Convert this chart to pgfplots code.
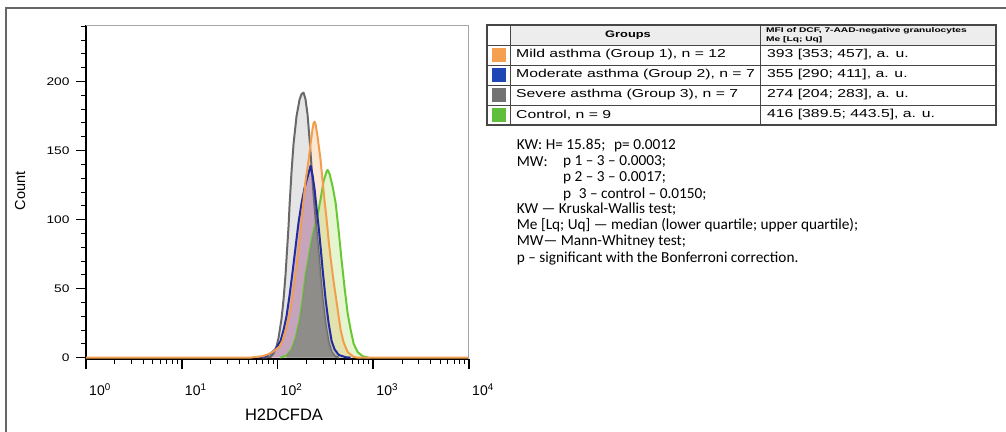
\documentclass[border=0pt]{standalone}
\usepackage{fontspec}
\setmainfont{Liberation Sans}
\newfontfamily\notefont{Carlito}
\usepackage{graphicx}
\usepackage{pgfplots}
\pgfplotsset{compat=1.18}

\definecolor{cmild}{RGB}{242,158,78}
\definecolor{cmod}{RGB}{32,44,160}
\definecolor{csev}{RGB}{105,105,105}
\definecolor{cctl}{RGB}{104,200,52}
\definecolor{smild}{RGB}{245,160,80}
\definecolor{smod}{RGB}{30,70,180}
\definecolor{ssev}{RGB}{115,115,115}
\definecolor{sctl}{RGB}{95,190,60}
\definecolor{tline}{RGB}{70,70,70}
\definecolor{overlap}{RGB}{135,135,135}

\newcommand\tabtext[1]{\scalebox{1.37}[1]{\fontsize{11.5}{12}\selectfont #1}}
\newcommand\note[1]{{\notefont\fontsize{15.3}{16}\selectfont #1}}

\begin{document}
\begin{tikzpicture}[x=1pt,y=-1pt]
\path[use as bounding box] (0,0) rectangle (1006,431);
% outer frame
\draw[line width=1.3pt, gray!80!black] (6,440) -- (6,8) -- (1006,8);

\begin{axis}[
  at={(86pt,-359pt)}, anchor=south west,
  scale only axis, width=383pt, height=334pt,
  xmode=log, xmin=1, xmax=10000, ymin=-1, ymax=241,
  axis lines=left, axis line style={-, line width=1.6pt, black},
  tick align=outside,
  xtick={1,10,100,1000,10000},
  xticklabels={10\textsuperscript{0},10\textsuperscript{1},10\textsuperscript{2},10\textsuperscript{3},10\textsuperscript{4}},
  minor xtick={2,3,4,5,6,7,8,9,20,30,40,50,60,70,80,90,200,300,400,500,600,700,800,900,2000,3000,4000,5000,6000,7000,8000,9000},
  ytick={0,50,100,150,200},
  minor ytick={10,20,30,40,60,70,80,90,110,120,130,140,160,170,180,190,210,220,230,240},
  major tick length=10pt, minor tick length=5pt,
  major tick style={line width=1.6pt, black},
  minor tick style={line width=1pt, black},
  /pgf/number format/assume math mode=true,
  xticklabel style={font=\fontsize{14}{14}\selectfont, xshift=14pt, yshift=-11pt},
  yticklabel={\scalebox{1.25}[1]{\pgfmathprintnumber{\tick}}},
  yticklabel style={font=\fontsize{11}{11}\selectfont, xshift=-3pt},
  xlabel={H2DCFDA}, ylabel={Count},
  xlabel style={font=\fontsize{16.5}{16.5}\selectfont, at={(axis description cs:0.517,-0.168)}, anchor=center},
  ylabel style={font=\fontsize{14.5}{14.5}\selectfont, at={(axis description cs:-0.172,0.503)}, anchor=center},
]
% fills
\addplot[draw=none, fill=gray!45, fill opacity=0.45] coordinates {
(69.6,0) (84.5,0.5) (90.8,3) (97.6,8) (102.4,14) (110.1,28) (115.6,42) (121.3,60)
(130.4,95) (133.6,110) (140.2,135) (147.1,155) (158.1,175) (170.0,187) (178.4,191)
(187.2,192) (196.4,187) (206.1,176) (216.3,158) (227.0,138) (238.2,118) (256.1,92)
(268.7,76) (282.0,58) (295.9,42) (318.2,24) (342.0,11) (367.7,4) (395.3,1) (435.3,0)
} \closedcycle;
\addplot[draw=none, fill=cmild, fill opacity=0.25] coordinates {
(52.2,0) (58.8,0.5) (69.6,1) (80.5,2.5) (90.8,4.5) (104.9,8) (112.8,12) (124.2,22)
(136.8,35) (147.1,50) (158.1,66) (170.0,85) (182.7,107) (196.4,128) (211.2,143)
(221.6,155) (232.6,166) (238.2,170) (244.0,171) (250.0,169) (262.3,160) (282.0,143)
(295.9,128) (310.6,113) (325.9,100) (342.0,85) (358.9,72) (385.8,55) (424.9,35)
(456.8,20) (491.0,11) (540.8,4) (624.9,0.5) (688.2,0)
} \closedcycle;
\addplot[draw=none, fill=violet!60!blue, fill opacity=0.22] coordinates {
(63.3,0) (74.9,1) (84.5,3) (95.3,6) (107.5,12) (115.6,20) (124.2,30) (133.6,45)
(143.6,62) (154.3,80) (165.9,98) (178.4,112) (191.8,123) (206.1,131) (221.6,139)
(232.6,132) (244.0,122) (256.1,108) (268.7,95) (282.0,80) (295.9,64) (318.2,42)
(342.0,25) (367.7,12) (395.3,6) (435.3,2) (515.3,0.3) (581.3,0)
} \closedcycle;
\addplot[draw=none, fill=cctl!80!yellow, fill opacity=0.22] coordinates {
(107.5,0) (124.2,1.5) (140.2,6) (154.3,14) (170.0,27) (182.7,42) (196.4,60) (211.2,72)
(227.0,85) (244.0,95) (262.3,103) (282.0,115) (303.2,128) (325.9,135) (333.9,136)
(350.4,133) (376.6,124) (404.9,112) (435.3,92) (467.9,70) (503.0,50) (540.8,32)
(581.3,20) (624.9,10) (688.2,4) (776.4,1) (897.2,0)
} \closedcycle;
% outlines
\addplot[cctl, line width=2pt, line join=round] coordinates {
(107.5,0) (124.2,1.5) (140.2,6) (154.3,14) (170.0,27) (182.7,42) (196.4,60) (211.2,72)
(227.0,85) (244.0,95) (262.3,103) (282.0,115) (303.2,128) (325.9,135) (333.9,136)
(350.4,133) (376.6,124) (404.9,112) (435.3,92) (467.9,70) (503.0,50) (540.8,32)
(581.3,20) (624.9,10) (688.2,4) (776.4,1) (897.2,0)
};
\addplot[csev, line width=2pt, line join=round] coordinates {
(69.6,0) (84.5,0.5) (90.8,3) (97.6,8) (102.4,14) (110.1,28) (115.6,42) (121.3,60)
(130.4,95) (133.6,110) (140.2,135) (147.1,155) (158.1,175) (170.0,187) (178.4,191)
(187.2,192) (196.4,187) (206.1,176) (216.3,158) (227.0,138) (238.2,118) (256.1,92)
(268.7,76) (282.0,58) (295.9,42) (318.2,24) (342.0,11) (367.7,4) (395.3,1) (435.3,0)
};
% region shared by all four histograms
\addplot[draw=none, fill=overlap, fill opacity=0.85] coordinates {
(124.2,0) (124.2,1.5) (140.2,6) (154.3,14) (170.0,27) (182.7,42) (196.4,60) (211.2,72)
(227.0,85) (238.2,92) (244.0,95) (250.0,98) (256.1,92) (268.7,76) (282.0,58) (295.9,42)
(318.2,24) (342.0,11) (367.7,4) (395.3,1) (435.3,0)
} \closedcycle;
\addplot[cmod, line width=2pt, line join=round] coordinates {
(63.3,0) (74.9,1) (84.5,3) (95.3,6) (107.5,12) (115.6,20) (124.2,30) (133.6,45)
(143.6,62) (154.3,80) (165.9,98) (178.4,112) (191.8,123) (206.1,131) (221.6,139)
(232.6,132) (244.0,122) (256.1,108) (268.7,95) (282.0,80) (295.9,64) (318.2,42)
(342.0,25) (367.7,12) (395.3,6) (435.3,2) (515.3,0.3) (581.3,0)
};
\addplot[cmild, line width=2pt, line join=round] coordinates {
(1,0) (52.2,0) (58.8,0.5) (69.6,1) (80.5,2.5) (90.8,4.5) (104.9,8) (112.8,12) (124.2,22)
(136.8,35) (147.1,50) (158.1,66) (170.0,85) (182.7,107) (196.4,128) (211.2,143)
(221.6,155) (232.6,166) (238.2,170) (244.0,171) (250.0,169) (262.3,160) (282.0,143)
(295.9,128) (310.6,113) (325.9,100) (342.0,85) (358.9,72) (385.8,55) (424.9,35)
(456.8,20) (491.0,11) (540.8,4) (624.9,0.5) (688.2,0) (10000,0)
};
\draw[gray!70, line width=1pt] (rel axis cs:0,1) -- (rel axis cs:1,1) -- (rel axis cs:1,0);
\end{axis}

% table
\fill[gray!14] (510.7,25) rectangle (996,45);
\draw[line width=0.8pt, tline] (487,45) -- (996,45) (487,65) -- (996,65)
  (487,85) -- (996,85) (487,105) -- (996,105);
\draw[line width=1.3pt, tline] (510.7,25) -- (510.7,125) (760.7,25) -- (760.7,125);
\draw[line width=1.4pt, tline] (487,25) rectangle (996,125);
\fill[smild] (491.7,48.3) rectangle (506,61.7);
\fill[smod] (491.7,68.3) rectangle (506,81.7);
\fill[ssev] (491.7,88.3) rectangle (506,101.7);
\fill[sctl] (491.7,108.3) rectangle (506,121.7);
\node at (628,35) {\scalebox{1.35}[1]{\fontsize{9.5}{10}\selectfont\bfseries Groups}};
\node[anchor=west, inner sep=0] at (766,30.5) {\scalebox{1.5}[1]{\fontsize{6.8}{7}\selectfont\bfseries MFI of DCF, 7-AAD-negative granulocytes}};
\node[anchor=west, inner sep=0] at (766,39.5) {\scalebox{1.5}[1]{\fontsize{6.8}{7}\selectfont\bfseries Me [Lq; Uq]}};
\node[anchor=west, inner sep=0] at (516,55) {\tabtext{Mild asthma (Group 1), n = 12}};
\node[anchor=west, inner sep=0] at (516,75) {\tabtext{Moderate asthma (Group 2), n = 7}};
\node[anchor=west, inner sep=0] at (516,95) {\tabtext{Severe asthma (Group 3), n = 7}};
\node[anchor=west, inner sep=0] at (516,115) {\tabtext{Control, n = 9}};
\node[anchor=west, inner sep=0] at (767,55) {\tabtext{393 [353; 457], a. u.}};
\node[anchor=west, inner sep=0] at (767,75) {\tabtext{355 [290; 411], a. u.}};
\node[anchor=west, inner sep=0] at (767,95) {\tabtext{274 [204; 283], a. u.}};
\node[anchor=west, inner sep=0] at (767,115) {\tabtext{416 [389.5; 443.5], a. u.}};

% notes
\node[anchor=west, inner sep=0] at (516.7,145.5) {\note{KW: H= 15.85;}};
\node[anchor=west, inner sep=0] at (614,145.5) {\note{p= 0.0012}};
\node[anchor=west, inner sep=0] at (516.7,161.8) {\note{MW:}};
\node[anchor=west, inner sep=0] at (563,161.8) {\note{p 1 – 3 – 0.0003;}};
\node[anchor=west, inner sep=0] at (563,178) {\note{p 2 – 3 – 0.0017;}};
\node[anchor=west, inner sep=0] at (563,194.3) {\note{p\enspace 3 – control – 0.0150;}};
\node[anchor=west, inner sep=0] at (516.7,209.5) {\note{KW — Kruskal-Wallis test;}};
\node[anchor=west, inner sep=0] at (516.7,225.5) {\note{Me [Lq; Uq] — median (lower quartile; upper quartile);}};
\node[anchor=west, inner sep=0] at (516.7,241.7) {\note{MW— Mann-Whitney test;}};
\node[anchor=west, inner sep=0] at (516.7,258) {\note{p – significant with the Bonferroni correction.}};
\end{tikzpicture}
\end{document}
